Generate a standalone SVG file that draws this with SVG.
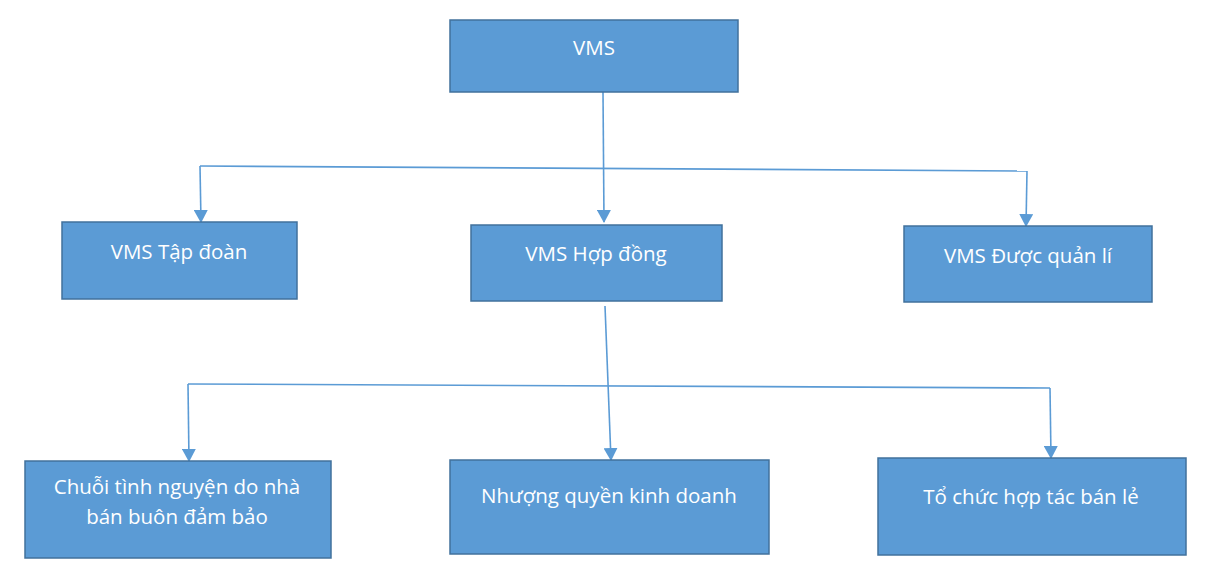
<svg xmlns="http://www.w3.org/2000/svg" width="1210" height="580" viewBox="0 0 1210 580">
<defs>
<style>
.box{fill:#5B9BD5;stroke:#41719C;stroke-width:1.5}
.t{fill:#ffffff;font-family:"Open Sans","Noto Sans",sans-serif;font-size:20.5px;text-anchor:middle}
.c{fill:none;stroke:#5B9BD5;stroke-width:1.6}
</style>
<marker id="a" markerWidth="14" markerHeight="14" refX="12" refY="7" orient="auto" markerUnits="userSpaceOnUse" viewBox="0 0 14 14">
<path d="M0,0 L13,7 L0,14 Z" fill="#5B9BD5"/>
</marker>
</defs>
<rect width="1210" height="580" fill="#ffffff"/>
<g id="connectors">
<path class="c" d="M603,92 L604,222" marker-end="url(#a)"/>
<path class="c" d="M200,166 L1027,171"/>
<path class="c" d="M200,166 L201,222" marker-end="url(#a)"/>
<path class="c" d="M1027,171 L1026,226" marker-end="url(#a)"/>
<path class="c" d="M605,306 L611,460" marker-end="url(#a)"/>
<path class="c" d="M188,384 L1050,388"/>
<path class="c" d="M188,384 L189,461" marker-end="url(#a)"/>
<path class="c" d="M1050,388 L1051,458" marker-end="url(#a)"/>
</g>
<g id="n-vms"><rect class="box" x="450" y="20" width="288" height="72"/><text class="t" x="594" y="55">VMS</text></g>
<g id="n-tapdoan"><rect class="box" x="62" y="222" width="235" height="77"/><text class="t" x="179" y="259">VMS Tập đoàn</text></g>
<g id="n-hopdong"><rect class="box" x="471" y="225" width="251" height="76"/><text class="t" x="596" y="261">VMS Hợp đồng</text></g>
<g id="n-duocquanli"><rect class="box" x="904" y="226" width="248" height="76"/><text class="t" x="1028" y="263">VMS Được quản lí</text></g>
<g id="n-chuoi"><rect class="box" x="25" y="461" width="306" height="97"/><text class="t" x="177" y="494">Chuỗi tình nguyện do nhà</text><text class="t" x="177" y="524">bán buôn đảm bảo</text></g>
<g id="n-nhuong"><rect class="box" x="450" y="460" width="319" height="94"/><text class="t" x="609" y="503">Nhượng quyền kinh doanh</text></g>
<g id="n-tochuc"><rect class="box" x="878" y="458" width="308" height="97"/><text class="t" x="1031" y="504">Tổ chức hợp tác bán lẻ</text></g>
</svg>
